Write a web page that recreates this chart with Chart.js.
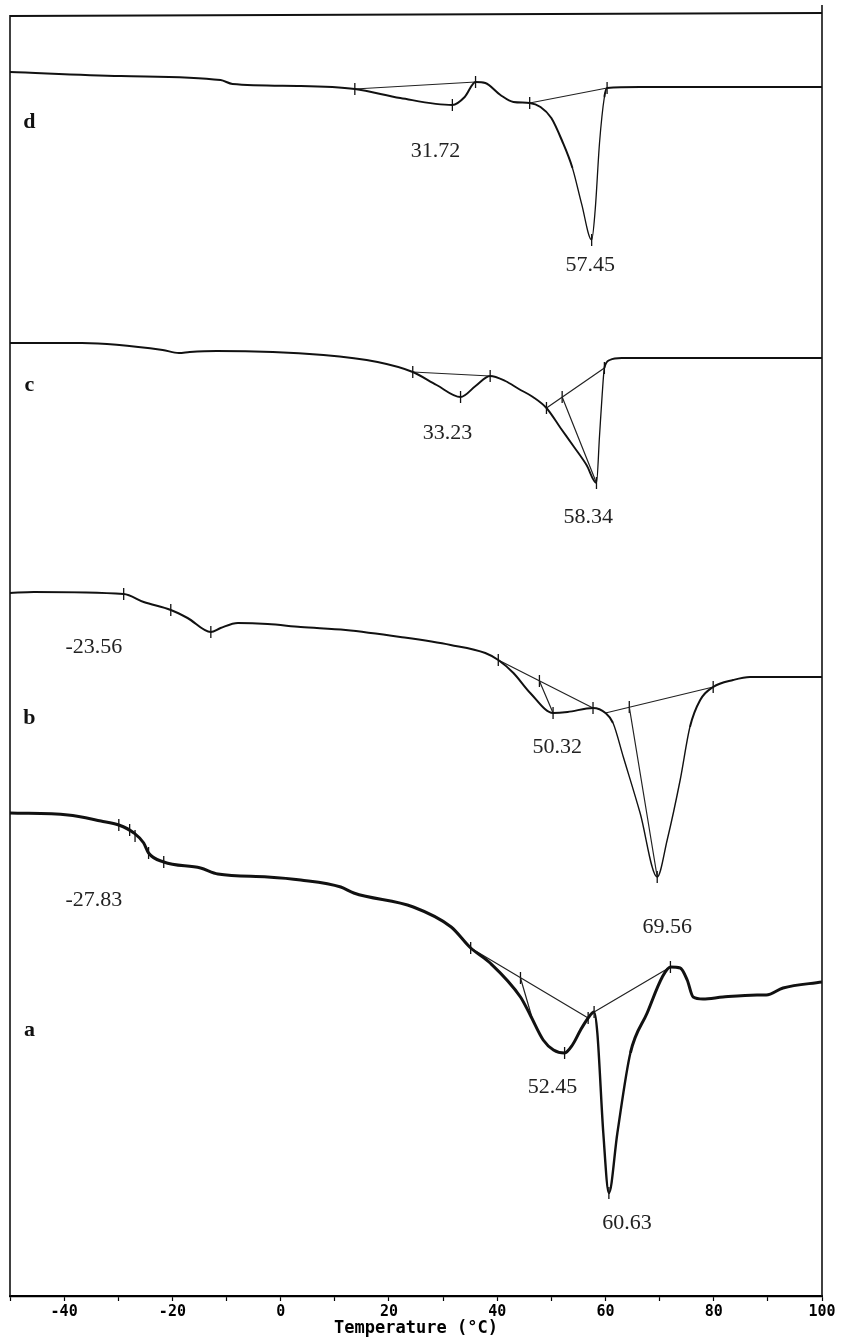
<!DOCTYPE html>
<html>
<head>
<meta charset="utf-8">
<script src="https://cdn.jsdelivr.net/npm/chart.js@4.4.1/dist/chart.umd.min.js"></script>
<style>
  html, body { margin: 0; padding: 0; background: #fff; }
  #wrap { width: 842px; height: 1339px; position: relative; }
</style>
</head>
<body>
<div id="wrap"><canvas id="dscChart"></canvas></div>
<script>
// DSC heating scans, heat flow in arbitrary units (each trace offset vertically)
const tempD = [-50, -29.5, -11.1, -8.9, 3.7, 13.7, 22.1, 31.72, 34.0, 36.0, 37.8, 40.6, 43.0, 46.0, 48.0, 50.0, 52.0, 53.9, 55.6, 57.45, 58.1, 58.9, 59.8, 60.3, 66.4, 100];
const heatD = [122.4, 122.0, 121.6, 121.2, 121.0, 120.7, 119.8, 119.1, 119.9, 121.4, 121.3, 120.1, 119.4, 119.3, 118.9, 117.8, 115.5, 112.8, 109.2, 105.6, 108.6, 115.3, 119.9, 120.8, 120.9, 120.9];

const tempC = [-50, -36.7, -21.8, -18.8, -16.8, -11.8, 7.9, 17.9, 24.4, 28.8, 33.23, 36.0, 38.7, 41.5, 44.0, 46.6, 49.1, 51.7, 54.2, 56.5, 58.34, 58.9, 59.4, 59.8, 60.8, 63.0, 100];
const heatC = [95.3, 95.3, 94.6, 94.3, 94.4, 94.5, 94.1, 93.4, 92.4, 91.1, 89.9, 91.0, 92.0, 91.5, 90.7, 89.9, 88.8, 86.8, 84.9, 83.1, 81.3, 86.0, 90.2, 92.8, 93.6, 93.8, 93.8];

const tempB = [-50, -45.6, -29.0, -25.3, -20.3, -17.2, -12.9, -11.1, -7.9, -2.4, 3.7, 12.0, 22.1, 31.4, 37.8, 40.2, 43.0, 46.1, 50.32, 53.0, 57.7, 60.0, 61.4, 63.3, 66.4, 69.56, 71.4, 73.8, 75.6, 77.5, 79.9, 83.6, 86.7, 100];
const heatB = [70.3, 70.4, 70.2, 69.4, 68.6, 67.8, 66.4, 66.8, 67.3, 67.2, 66.9, 66.6, 65.9, 65.1, 64.3, 63.6, 62.3, 60.3, 58.3, 58.4, 58.8, 58.3, 57.3, 53.9, 48.3, 41.9, 45.6, 51.6, 56.9, 59.6, 60.9, 61.6, 61.9, 61.9];

const tempA = [-50, -39.3, -33.2, -29.9, -27.1, -25.3, -24.4, -21.6, -14.8, -11.6, -2.4, 3.7, 11.1, 13.5, 24.5, 31.5, 35.1, 38.7, 44.3, 46.1, 48.5, 50.4, 52.45, 53.9, 55.4, 56.8, 57.9, 58.5, 59.6, 60.63, 62.2, 64.6, 67.7, 70.5, 72.0, 73.8, 75.1, 76.2, 78.0, 81.7, 88.0, 89.7, 92.8, 100];
const heatA = [48.3, 48.1, 47.5, 47.1, 46.3, 45.3, 44.3, 43.4, 42.8, 42.2, 41.9, 41.6, 40.9, 40.3, 38.9, 36.9, 34.8, 33.3, 29.9, 28.1, 25.6, 24.6, 24.3, 25.1, 26.6, 27.8, 28.4, 26.3, 16.3, 10.3, 16.3, 24.3, 28.3, 31.9, 32.9, 32.8, 31.6, 29.9, 29.7, 29.9, 30.1, 30.1, 30.8, 31.4];

// integration baselines and drop lines: [t1, h1, t2, h2]
const baseD = [[13.7, 120.7, 36.0, 121.4], [46.0, 119.3, 60.3, 120.8]];
const baseC = [[24.4, 92.4, 38.7, 92.0], [49.1, 88.8, 59.8, 92.8], [52.0, 89.9, 58.34, 81.3]];
const baseB = [[40.2, 63.6, 57.7, 58.8], [47.8, 61.5, 50.32, 58.3], [60.0, 58.3, 79.9, 60.9], [64.4, 58.9, 69.56, 41.9]];
const baseA = [[35.1, 34.8, 56.8, 27.8], [44.3, 31.8, 46.4, 27.9], [57.9, 28.4, 72.0, 32.9]];

// limit / peak markers
const markT = [13.7, 31.72, 36.0, 46.0, 57.45, 60.3,
               24.4, 33.23, 38.7, 49.1, 52.0, 58.34, 59.8,
               -29.0, -20.3, -12.9, 40.2, 47.8, 50.32, 57.7, 64.4, 69.56, 79.9,
               -29.9, -27.9, -26.9, -24.4, -21.6, 35.1, 44.3, 52.45, 56.8, 57.9, 60.63, 72.0];
const markH = [120.7, 119.1, 121.4, 119.3, 105.6, 120.8,
               92.4, 89.9, 92.0, 88.8, 89.9, 81.3, 92.8,
               70.2, 68.6, 66.4, 63.6, 61.5, 58.3, 58.8, 58.9, 41.9, 60.9,
               47.1, 46.6, 46.0, 44.3, 43.4, 34.8, 31.8, 24.3, 27.8, 28.4, 10.3, 32.9];

const peakText = ['31.72', '57.45', '33.23', '58.34', '-23.56', '50.32', '69.56', '-27.83', '52.45', '60.63'];
const peakT = [28.6, 57.2, 30.8, 56.8, -34.5, 51.1, 71.4, -34.5, 50.2, 64.0];
const peakH = [114.5, 103.1, 86.3, 77.9, 64.9, 54.9, 36.9, 39.6, 20.9, 7.3];

const traceNames = ['d', 'c', 'b', 'a'];
const traceNameH = [117.4, 91.1, 57.8, 26.6];
const traceNameT = -46.4;

const xTicks = [-40, -20, 0, 20, 40, 60, 80, 100];

function toPoints(xs, ys) {
    return xs.map((x, i) => ({ x: x, y: ys[i] }));
}

function segPoints(segs) {
    const out = [];
    segs.forEach(s => {
        out.push({ x: s[0], y: s[1] });
        out.push({ x: s[2], y: s[3] });
        out.push({ x: s[2], y: null });
    });
    return out;
}

// the pen ran thinner on the steep melting flanks
function curve(label, xs, ys, width, flankWidth) {
    return {
        type: 'line',
        label: label,
        data: toPoints(xs, ys),
        borderColor: '#111',
        borderWidth: width,
        pointRadius: 0,
        cubicInterpolationMode: 'monotone',
        fill: false,
        segment: {
            borderWidth: c => {
                const dx = Math.abs(c.p1.x - c.p0.x);
                const dy = Math.abs(c.p1.y - c.p0.y);
                return (dy > 20 && dy > 3 * dx) ? flankWidth : width;
            }
        }
    };
}

function baseline(label, segs) {
    return {
        type: 'line',
        label: label,
        data: segPoints(segs),
        borderColor: '#222',
        borderWidth: 1.2,
        pointRadius: 0,
        tension: 0,
        spanGaps: false,
        fill: false
    };
}

// labels, trace letters and the plot frame
const annotations = {
    id: 'annotations',
    afterDatasetsDraw(chart) {
        const ctx = chart.ctx;
        const xs = chart.scales.x;
        const ys = chart.scales.y;
        const area = chart.chartArea;
        ctx.save();

        ctx.strokeStyle = '#111';
        ctx.lineWidth = 1.6;
        ctx.beginPath();
        ctx.moveTo(area.left, area.bottom);
        ctx.lineTo(area.left, area.top);
        ctx.stroke();
        ctx.beginPath();
        ctx.moveTo(area.right, area.bottom);
        ctx.lineTo(area.right, area.top - 10);
        ctx.stroke();
        ctx.lineWidth = 2.2;
        ctx.beginPath();
        ctx.moveTo(area.left, area.top + 1);
        ctx.lineTo(area.right, area.top - 2);
        ctx.stroke();

        ctx.fillStyle = '#222';
        ctx.textAlign = 'center';
        ctx.textBaseline = 'middle';
        ctx.font = '22px "Liberation Serif"';
        peakText.forEach((t, i) => {
            ctx.fillText(t, xs.getPixelForValue(peakT[i]), ys.getPixelForValue(peakH[i]));
        });

        ctx.fillStyle = '#111';
        ctx.font = 'bold 22px "Liberation Serif"';
        traceNames.forEach((t, i) => {
            ctx.fillText(t, xs.getPixelForValue(traceNameT), ys.getPixelForValue(traceNameH[i]));
        });
        ctx.restore();
    }
};

const ctx = document.getElementById('dscChart').getContext('2d');

new Chart(ctx, {
    data: {
        datasets: [
            curve('d', tempD, heatD, 2, 1.3),
            curve('c', tempC, heatC, 1.9, 1.3),
            curve('b', tempB, heatB, 2, 1.4),
            curve('a', tempA, heatA, 3, 2.4),
            baseline('d baseline', baseD),
            baseline('c baseline', baseC),
            baseline('b baseline', baseB),
            baseline('a baseline', baseA),
            {
                type: 'scatter',
                label: 'markers',
                data: toPoints(markT, markH),
                pointStyle: 'line',
                rotation: 90,
                radius: 6,
                borderColor: '#111',
                borderWidth: 1.3
            }
        ]
    },
    options: {
        responsive: true,
        maintainAspectRatio: false,
        animation: false,
        layout: {
            padding: { left: 10, right: 20, top: 15, bottom: 0 }
        },
        plugins: {
            legend: { display: false },
            tooltip: { enabled: false }
        },
        scales: {
            x: {
                type: 'linear',
                min: -50,
                max: 100,
                afterFit(scale) { scale.height = 43; },
                afterBuildTicks(scale) {
                    const t = [];
                    for (let v = -50; v <= 100; v += 10) t.push({ value: v });
                    scale.ticks = t;
                },
                ticks: {
                    autoSkip: false,
                    maxRotation: 0,
                    padding: 2,
                    color: '#000',
                    font: { family: '"DejaVu Sans Mono"', weight: 'bold', size: 15 },
                    callback: v => xTicks.includes(v) ? String(v) : ''
                },
                grid: {
                    drawOnChartArea: false,
                    drawTicks: true,
                    tickLength: 5,
                    tickColor: '#000',
                    tickWidth: 1.2
                },
                border: { display: true, color: '#000', width: 2.2 },
                title: {
                    display: true,
                    text: 'Temperature (°C)',
                    color: '#000',
                    font: { family: '"DejaVu Sans Mono"', weight: 'bold', size: 17 },
                    padding: { top: 0, bottom: 0 }
                }
            },
            y: {
                type: 'linear',
                display: false,
                min: 0,
                max: 128.1
            }
        }
    },
    plugins: [annotations]
});
</script>
</body>
</html>
